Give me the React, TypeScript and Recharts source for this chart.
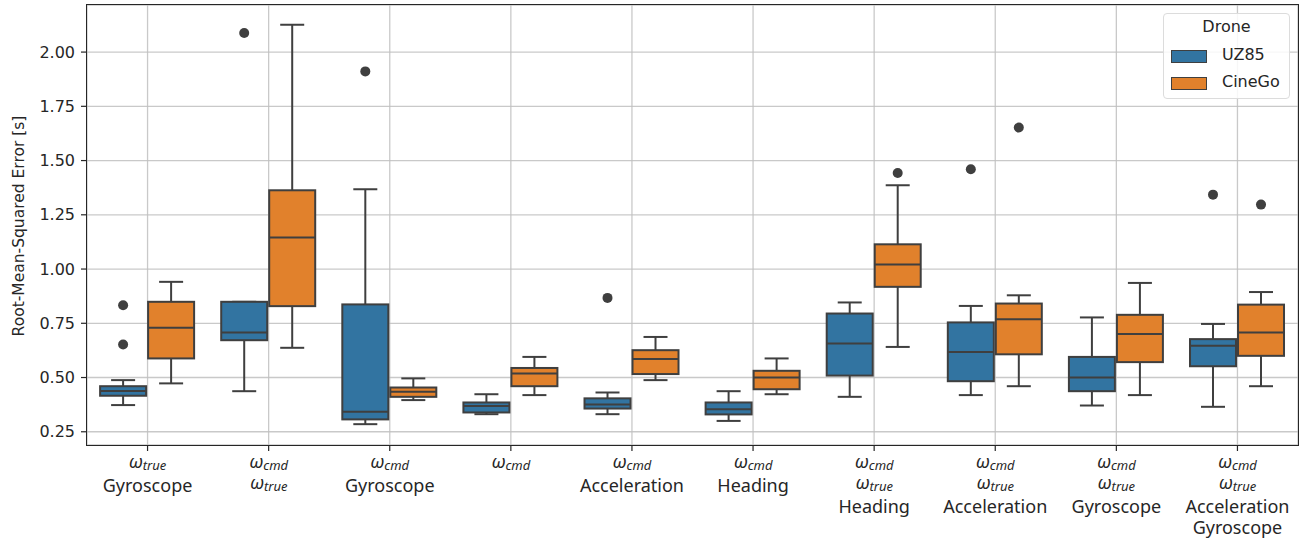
import React from "react";
import { ComposedChart, Bar, XAxis, YAxis, CartesianGrid, Legend } from "recharts";

// categories along the x axis and how their tick labels are split into lines
const categories = [
  "wtrue-gyro",
  "wcmd-wtrue",
  "wcmd-gyro",
  "wcmd",
  "wcmd-acc",
  "wcmd-head",
  "wcmd-wtrue-head",
  "wcmd-wtrue-acc",
  "wcmd-wtrue-gyro",
  "wcmd-wtrue-acc-gyro",
];
const tickLabels = [
  ["ω_true", "Gyroscope"],
  ["ω_cmd", "ω_true"],
  ["ω_cmd", "Gyroscope"],
  ["ω_cmd"],
  ["ω_cmd", "Acceleration"],
  ["ω_cmd", "Heading"],
  ["ω_cmd", "ω_true", "Heading"],
  ["ω_cmd", "ω_true", "Acceleration"],
  ["ω_cmd", "ω_true", "Gyroscope"],
  ["ω_cmd", "ω_true", "Acceleration", "Gyroscope"],
];
const yTicks = [0.25, 0.5, 0.75, 1.0, 1.25, 1.5, 1.75, 2.0];

// UZ85
const uzLow = [0.373, 0.437, 0.285, 0.331, 0.331, 0.3, 0.411, 0.419, 0.371, 0.365];
const uzQ1 = [0.416, 0.672, 0.307, 0.339, 0.357, 0.33, 0.509, 0.483, 0.437, 0.552];
const uzMed = [0.438, 0.708, 0.342, 0.369, 0.376, 0.354, 0.657, 0.618, 0.5, 0.646];
const uzQ3 = [0.46, 0.849, 0.837, 0.385, 0.404, 0.385, 0.795, 0.754, 0.595, 0.677];
const uzHigh = [0.488, 0.849, 1.368, 0.423, 0.431, 0.437, 0.846, 0.83, 0.777, 0.747];
const uzOut = [[0.833, 0.652], [2.088], [1.911], [], [0.867], [], [], [1.46], [], [1.343]];

// CineGo
const cgLow = [0.473, 0.637, 0.396, 0.419, 0.488, 0.423, 0.641, 0.46, 0.419, 0.46];
const cgQ1 = [0.588, 0.829, 0.411, 0.46, 0.516, 0.446, 0.918, 0.607, 0.571, 0.6];
const cgMed = [0.729, 1.145, 0.434, 0.519, 0.585, 0.5, 1.021, 0.769, 0.701, 0.708];
const cgQ3 = [0.849, 1.363, 0.454, 0.544, 0.626, 0.531, 1.114, 0.841, 0.789, 0.836];
const cgHigh = [0.941, 2.126, 0.496, 0.595, 0.687, 0.588, 1.386, 0.879, 0.936, 0.894];
const cgOut: number[][] = [[], [], [], [], [], [], [1.443], [1.652], [], [1.297]];

const seriesNames = ["UZ85", "CineGo"];
const seriesColors = ["#3274a1", "#e1812c"];
const LINE = "#3f3f3f";
const TEXT = "#262626";

type Stats = { lo: number; q1: number; med: number; q3: number; hi: number; out: number[]; min: number; max: number };

function stats(lo: number[], q1: number[], med: number[], q3: number[], hi: number[], out: number[][], i: number): Stats {
  const o = out[i];
  return {
    lo: lo[i],
    q1: q1[i],
    med: med[i],
    q3: q3[i],
    hi: hi[i],
    out: o,
    min: Math.min(lo[i], ...o),
    max: Math.max(hi[i], ...o),
  };
}

const rows = categories.map((name, i) => ({
  name,
  uz: stats(uzLow, uzQ1, uzMed, uzQ3, uzHigh, uzOut, i),
  cg: stats(cgLow, cgQ1, cgMed, cgQ3, cgHigh, cgOut, i),
}));

// the bar spans [min, max] of the series, so its pixel box gives the y scale
function BoxShape(props: any) {
  const { x, y, width, height, payload, skey, color } = props;
  const s: Stats = payload[skey];
  const top = Math.min(y, y + height);
  const k = Math.abs(height) / (s.max - s.min || 1);
  const py = (v: number) => top + (s.max - v) * k;
  const cx = x + width / 2;
  const cap = width / 4;
  return (
    <g>
      <line x1={cx} x2={cx} y1={py(s.hi)} y2={py(s.q3)} stroke={LINE} strokeWidth={2} />
      <line x1={cx} x2={cx} y1={py(s.q1)} y2={py(s.lo)} stroke={LINE} strokeWidth={2} />
      <line x1={cx - cap} x2={cx + cap} y1={py(s.hi)} y2={py(s.hi)} stroke={LINE} strokeWidth={2} />
      <line x1={cx - cap} x2={cx + cap} y1={py(s.lo)} y2={py(s.lo)} stroke={LINE} strokeWidth={2} />
      <rect x={x + 1} y={py(s.q3)} width={width - 2} height={py(s.q1) - py(s.q3)} fill={color} stroke={LINE} strokeWidth={2} />
      <line x1={x + 1} x2={x + width - 1} y1={py(s.med)} y2={py(s.med)} stroke={LINE} strokeWidth={2} />
      {s.out.map((v, j) => (
        <circle key={j} cx={cx} cy={py(v)} r={5} fill={LINE} />
      ))}
    </g>
  );
}

function CategoryTick(props: any) {
  const { x, y, payload } = props;
  const lines = tickLabels[categories.indexOf(payload.value)] || [];
  return (
    <g>
      {lines.map((line, k) => {
        const yy = y + 15 + k * 21;
        if (line.startsWith("ω_")) {
          return (
            <text key={k} x={x} y={yy} textAnchor="middle" fill={TEXT} fontFamily="Noto Sans" fontStyle="italic">
              <tspan fontSize={18}>ω</tspan>
              <tspan fontSize={13} dy={2}>
                {line.slice(2)}
              </tspan>
            </text>
          );
        }
        return (
          <text key={k} x={x} y={yy + 3} textAnchor="middle" fill={TEXT} fontFamily="Noto Sans" fontSize={18}>
            {line}
          </text>
        );
      })}
    </g>
  );
}

function DroneLegend() {
  return (
    <div
      style={{
        position: "relative",
        width: 127,
        height: 86,
        boxSizing: "border-box",
        border: "1px solid #dcdcdc",
        borderRadius: 4,
        background: "rgba(255,255,255,0.85)",
        fontFamily: "DejaVu Sans",
        fontSize: 16,
        color: TEXT,
      }}
    >
      <div style={{ position: "absolute", top: 3, left: 0, width: "100%", textAlign: "center" }}>Drone</div>
      {seriesNames.map((n, i) => (
        <div key={n}>
          <div
            style={{
              position: "absolute",
              left: 7,
              top: 36 + i * 27,
              width: 34,
              height: 11,
              background: seriesColors[i],
              border: `1px solid ${LINE}`,
            }}
          />
          <div style={{ position: "absolute", left: 58, top: 31 + i * 27 }}>{n}</div>
        </div>
      ))}
    </div>
  );
}

export default function App() {
  return (
    <div style={{ position: "absolute", left: 0, top: 0, width: 1303, height: 538, background: "#fff" }}>
      <ComposedChart
        width={1303}
        height={538}
        data={rows}
        margin={{ top: 5, right: 5, bottom: 0, left: 0 }}
        barCategoryGap="10%"
        barGap={0}
      >
        <XAxis
          dataKey="name"
          interval={0}
          height={93}
          axisLine={false}
          tickSize={6}
          tickLine={{ stroke: TEXT, strokeWidth: 1.2 }}
          tick={<CategoryTick />}
        />
        <YAxis
          type="number"
          domain={[0.189, 2.217]}
          allowDataOverflow
          ticks={yTicks}
          width={87}
          axisLine={false}
          tickSize={6}
          tickMargin={6}
          tickLine={{ stroke: TEXT, strokeWidth: 1.2 }}
          tickFormatter={(v: number) => v.toFixed(2)}
          tick={{ fill: TEXT, fontSize: 16, fontFamily: "DejaVu Sans" }}
        />
        <Bar
          name={seriesNames[0]}
          dataKey={(d: any) => [d.uz.min, d.uz.max]}
          fill={seriesColors[0]}
          isAnimationActive={false}
          shape={(p: any) => <BoxShape {...p} skey="uz" color={seriesColors[0]} />}
        />
        <Bar
          name={seriesNames[1]}
          dataKey={(d: any) => [d.cg.min, d.cg.max]}
          fill={seriesColors[1]}
          isAnimationActive={false}
          shape={(p: any) => <BoxShape {...p} skey="cg" color={seriesColors[1]} />}
        />
        <CartesianGrid stroke="#c0c0c0" strokeOpacity={0.85} strokeWidth={1.3} />
        <Legend
          layout="horizontal"
          verticalAlign="middle"
          align="center"
          wrapperStyle={{ top: 13, left: 1163, width: 127, height: 86 }}
          content={() => <DroneLegend />}
        />
      </ComposedChart>
      <svg
        width={40}
        height={538}
        style={{ position: "absolute", left: 0, top: 0, pointerEvents: "none" }}
      >
        <text
          x={19}
          y={226}
          transform="rotate(-90 19 226)"
          textAnchor="middle"
          dominantBaseline="central"
          fill={TEXT}
          fontSize={15.5}
          fontFamily="DejaVu Sans"
        >
          Root-Mean-Squared Error [s]
        </text>
      </svg>
      <div
        style={{
          position: "absolute",
          left: 86,
          top: 4,
          width: 1213,
          height: 442,
          boxSizing: "border-box",
          border: "1.5px solid #262626",
          pointerEvents: "none",
        }}
      />
    </div>
  );
}
